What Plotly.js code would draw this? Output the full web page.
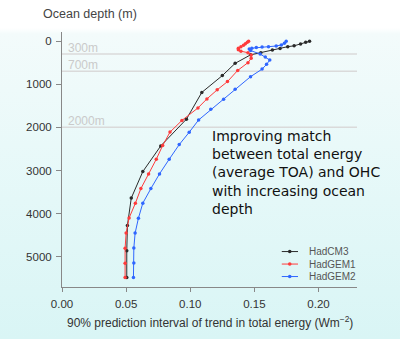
<!DOCTYPE html>
<html><head><meta charset="utf-8">
<script src="https://cdn.plot.ly/plotly-3.0.1.min.js"></script>
<style>
html,body{margin:0;padding:0;}
body{width:400px;height:339px;background:linear-gradient(to bottom,#ffffff 0px,#ffffff 28px,#f3fbfb 34px,#e4f8f8 200px,#d9f5f5 339px);}
#chart{width:400px;height:339px;}
</style></head>
<body><div id="chart"></div>
<script>
// HadCM3
const cm3Depth = [5, 30, 70, 110, 130, 170, 210, 270, 320, 516, 800, 1190, 1810, 2430, 3025, 3640, 4275, 4860, 5480];
const cm3Value = [0.193, 0.190, 0.186, 0.181, 0.176, 0.170, 0.164, 0.155, 0.147, 0.135, 0.125, 0.109, 0.097, 0.077, 0.063, 0.054, 0.051, 0.0505, 0.0505];
// HadGEM1
const gem1Depth = [5, 30, 60, 95, 130, 165, 200, 235, 270, 325, 400, 500, 680, 940, 1130, 1340, 1550, 1840, 2110, 2420, 2740, 3080, 3420, 3760, 4100, 4450, 4800, 5150, 5480];
const gem1Value = [0.1455, 0.1445, 0.143, 0.1415, 0.1395, 0.1375, 0.1375, 0.1395, 0.145, 0.1475, 0.1475, 0.145, 0.137, 0.129, 0.121, 0.113, 0.106, 0.0935, 0.0842, 0.0785, 0.0735, 0.0675, 0.0615, 0.0572, 0.0523, 0.0500, 0.0492, 0.0492, 0.0492];
// HadGEM2
const gem2Depth = [5, 50, 90, 115, 130, 140, 150, 165, 185, 220, 300, 370, 440, 540, 650, 826, 1118, 1350, 1581, 1829, 2113, 2400, 2738, 3079, 3419, 3757, 4104, 4451, 4799, 5146, 5479];
const gem2Value = [0.1748, 0.1734, 0.171, 0.167, 0.161, 0.156, 0.1515, 0.148, 0.146, 0.147, 0.1545, 0.1585, 0.162, 0.1595, 0.156, 0.147, 0.135, 0.126, 0.116, 0.1065, 0.0992, 0.0914, 0.0836, 0.076, 0.0693, 0.063, 0.0596, 0.057, 0.056, 0.056, 0.0557];
const seriesNames = ['HadCM3', 'HadGEM1', 'HadGEM2'];
const seriesColors = ['#2a2a2a', '#ff3b3b', '#2f66ff'];
const refDepths = [300, 700, 2000];
const refLabels = ['300m', '700m', '2000m'];
const xTicks = [0, 0.05, 0.10, 0.15, 0.20];
const yTicks = [0, 1000, 2000, 3000, 4000, 5000];

const FONT = 'Liberation Sans, Arial, Helvetica, sans-serif';
function tr(name, x, y, color) {
  return {type:'scatter', mode:'lines+markers', name:name, x:x, y:y,
    line:{color:color, width:1}, marker:{color:color, size:3.5}, showlegend:false};
}
const data = [
  tr(seriesNames[0], cm3Value, cm3Depth, seriesColors[0]),
  tr(seriesNames[1], gem1Value, gem1Depth, seriesColors[1]),
  tr(seriesNames[2], gem2Value, gem2Depth, seriesColors[2])
];
const shapes = refDepths.map(d => ({type:'line', xref:'paper', x0:0, x1:1, yref:'y', y0:d, y1:d,
  line:{color:'#dadada', width:1.5}, layer:'below'}));
const annotations = refDepths.map((d,i) => ({xref:'x', x:0.003, yref:'y', y:d, text:refLabels[i],
  showarrow:false, xanchor:'left', yanchor:'bottom', yshift:-3,
  font:{family:FONT, size:12, color:'#cacaca'}}));
annotations.push({xref:'paper', yref:'paper', x:-0.07, y:1.0, yshift:9, xanchor:'left', yanchor:'bottom',
  text:'Ocean depth (m)', showarrow:false,
  font:{family:FONT, size:12.5, color:'#444444'}});
annotations.push({xref:'paper', yref:'paper', x:0.5, y:0.632, xanchor:'left', yanchor:'top', align:'left',
  text:'Improving match<br>between total energy<br>(average TOA) and OHC<br>with increasing ocean<br>depth',
  showarrow:false, font:{family:'DejaVu Sans, sans-serif', size:14, color:'#111111'}});
annotations.push({xref:'paper', yref:'paper', x:0.5, y:0, yshift:-35, xanchor:'center', yanchor:'middle',
  text:'90% prediction interval of trend in total energy (Wm<sup>−2</sup>)', showarrow:false,
  font:{family:FONT, size:12, color:'#333333'}});

// hand-made compact legend
const legY = [0.139, 0.090, 0.041];
seriesNames.forEach((n, i) => {
  shapes.push({type:'line', xref:'paper', yref:'paper', x0:0.745, x1:0.800, y0:legY[i], y1:legY[i],
    line:{color:seriesColors[i], width:1}});
  shapes.push({type:'circle', xref:'paper', yref:'paper', xsizemode:'pixel', ysizemode:'pixel',
    xanchor:0.772, yanchor:legY[i], x0:-1.8, x1:1.8, y0:-1.8, y1:1.8,
    fillcolor:seriesColors[i], line:{width:0}});
  annotations.push({xref:'paper', yref:'paper', x:0.830, y:legY[i], xanchor:'left', yanchor:'middle',
    text:n, showarrow:false, font:{family:FONT, size:10, color:'#555555'}});
});

const layout = {
  width:400, height:339,
  margin:{l:62, r:43, t:32, b:52, pad:0},
  paper_bgcolor:'rgba(0,0,0,0)', plot_bgcolor:'rgba(0,0,0,0)',
  showlegend:false,
  xaxis:{range:[0, 0.23], tickvals:xTicks, tickformat:'.2f', showgrid:false, zeroline:false,
    showline:true, linecolor:'#888888', linewidth:1, ticks:'outside', ticklen:4, tickcolor:'#888888',
    ticklabelstandoff:2,
    tickfont:{family:FONT, size:11.5, color:'#333333'}},
  yaxis:{range:[5700, -210], tickvals:yTicks, showgrid:false, zeroline:false,
    showline:true, linecolor:'#888888', linewidth:1, ticks:'outside', ticklen:5, tickcolor:'#888888',
    ticklabelstandoff:2,
    tickfont:{family:FONT, size:11.5, color:'#333333'}},
  shapes:shapes, annotations:annotations
};
Plotly.newPlot('chart', data, layout, {displayModeBar:false, staticPlot:true});
</script></body></html>
